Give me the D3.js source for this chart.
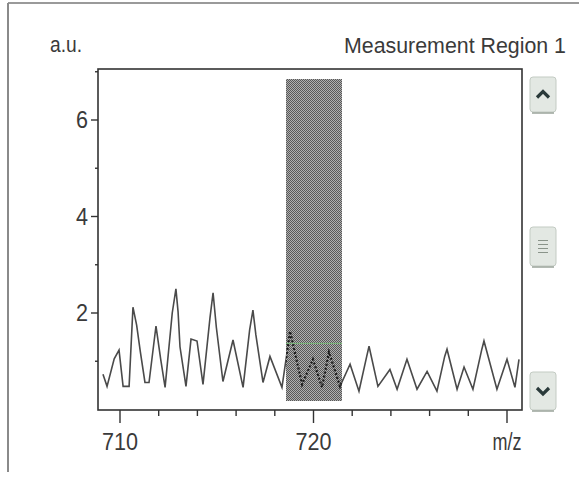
<!DOCTYPE html>
<html>
<head>
<meta charset="utf-8">
<script src="https://cdn.jsdelivr.net/npm/d3@7"></script>
<style>
  body { margin: 0; background: #fff; }
  text { font-family: "Liberation Sans", Arial, sans-serif; fill: #3a3a3a; }
</style>
</head>
<body>
<div class="chart-container"></div>
<script>
// --- Data ---

// m/z positions of the spectrum vertices
const mz = [
    709.12, 709.33, 709.70, 709.95, 710.16, 710.47, 710.67, 710.86, 711.05, 711.29,
    711.50, 711.86, 712.10, 712.33, 712.70, 712.89, 713.00, 713.10, 713.41, 713.67,
    713.98, 714.29, 714.65, 714.81, 714.98, 715.32, 715.84, 716.36, 716.70, 716.87,
    717.02, 717.39, 717.75, 718.37, 718.79, 719.41, 719.97, 720.44, 720.80, 721.37,
    721.89, 722.35, 722.75, 722.87, 723.33, 723.95, 724.32, 724.83, 725.35, 725.87,
    726.38, 726.78, 726.90, 727.42, 727.78, 728.24, 728.70, 728.81, 729.48, 730.00,
    730.41, 730.62
];
// intensity (a.u.) at each vertex
const intensity = [
    0.73, 0.48, 1.05, 1.23, 0.48, 0.48, 2.12, 1.75, 1.20, 0.56,
    0.56, 1.73, 1.05, 0.46, 2.00, 2.50, 2.03, 1.30, 0.48, 1.46,
    1.42, 0.52, 1.90, 2.42, 1.70, 0.58, 1.44, 0.46, 1.65, 2.06,
    1.55, 0.56, 1.10, 0.46, 1.62, 0.52, 1.04, 0.46, 1.19, 0.48,
    0.94, 0.38, 1.10, 1.31, 0.48, 0.83, 0.42, 1.04, 0.42, 0.79,
    0.38, 1.10, 1.25, 0.42, 0.88, 0.42, 1.25, 1.42, 0.42, 1.04,
    0.46, 1.04
];

// measurement region (m/z from, m/z to) and its height / threshold
const region = [718.58, 721.48];
const regionTop = 6.85;
const regionBottom = 0.17;
const threshold = 1.37;

// axis ticks
const xMajor = [710, 720, 730];
const xLabels = ["710", "720", "m/z"];
const xMinor = [712, 714, 716, 718, 722, 724, 726, 728];
const yMajor = [2, 4, 6];
const yMinor = [1, 3, 5, 7];

// --- Layout ---
const w = 579;
const h = 481;
const frame = { left: 98, right: 522, top: 69, bottom: 410 };

const xScale = d3.scaleLinear()
    .domain([710, 730])
    .range([120, 507]);

const yScale = d3.scaleLinear()
    .domain([2, 6])
    .range([313, 120]);

const svg = d3.select(".chart-container")
    .append("svg")
    .attr("width", w)
    .attr("height", h);

// window border (top and left edges)
svg.append("line")
    .attr("x1", 8).attr("x2", w).attr("y1", 3).attr("y2", 3)
    .attr("stroke", "#9a9a9a").attr("stroke-width", 2);
svg.append("line")
    .attr("x1", 8).attr("x2", 8).attr("y1", 3).attr("y2", 472)
    .attr("stroke", "#8a8a8a").attr("stroke-width", 2);

// titles (the original font is a tall, narrow one)
svg.append("text")
    .attr("x", 50).attr("y", 52)
    .attr("font-size", "22px")
    .attr("textLength", 32)
    .attr("lengthAdjust", "spacingAndGlyphs")
    .text("a.u.");
svg.append("text")
    .attr("x", 566).attr("y", 53)
    .attr("text-anchor", "end")
    .attr("font-size", "22px")
    .attr("textLength", 222)
    .attr("lengthAdjust", "spacingAndGlyphs")
    .text("Measurement Region 1");

// checkered fill for the measurement region
const defs = svg.append("defs");
const pat = defs.append("pattern")
    .attr("id", "checker")
    .attr("patternUnits", "userSpaceOnUse")
    .attr("width", 2).attr("height", 2);
pat.append("rect").attr("width", 2).attr("height", 2).attr("fill", "#b0b0b0");
pat.append("rect").attr("width", 1).attr("height", 1).attr("fill", "#585858");
pat.append("rect").attr("x", 1).attr("y", 1).attr("width", 1).attr("height", 1).attr("fill", "#585858");

defs.append("clipPath").attr("id", "plotClip")
    .append("rect")
    .attr("x", frame.left).attr("y", frame.top)
    .attr("width", frame.right - frame.left).attr("height", frame.bottom - frame.top);

defs.append("clipPath").attr("id", "regionClip")
    .append("rect")
    .attr("x", xScale(region[0])).attr("y", yScale(regionTop))
    .attr("width", xScale(region[1]) - xScale(region[0]))
    .attr("height", yScale(regionBottom) - yScale(regionTop));

// spectrum
const points = mz.map(function (d, i) { return [d, intensity[i]]; });
const line = d3.line()
    .x(function (d) { return xScale(d[0]); })
    .y(function (d) { return yScale(d[1]); });

svg.append("path")
    .datum(points)
    .attr("clip-path", "url(#plotClip)")
    .attr("d", line)
    .attr("fill", "none")
    .attr("stroke", "#4a4a4a")
    .attr("stroke-width", 1.6);

// region box
svg.append("rect")
    .attr("x", xScale(region[0]))
    .attr("y", yScale(regionTop))
    .attr("width", xScale(region[1]) - xScale(region[0]))
    .attr("height", yScale(regionBottom) - yScale(regionTop))
    .attr("fill", "url(#checker)")
    .attr("shape-rendering", "crispEdges");

// spectrum seen through the region, dotted
svg.append("path")
    .datum(points)
    .attr("clip-path", "url(#regionClip)")
    .attr("d", line)
    .attr("fill", "none")
    .attr("stroke", "#1e1e1e")
    .attr("stroke-width", 2.2)
    .attr("stroke-dasharray", "2,2");

// threshold line inside the region
svg.append("line")
    .attr("x1", xScale(region[0])).attr("x2", xScale(region[1]))
    .attr("y1", yScale(threshold)).attr("y2", yScale(threshold))
    .attr("stroke", "#78b878").attr("stroke-width", 1);

// frame
svg.append("rect")
    .attr("x", frame.left).attr("y", frame.top)
    .attr("width", frame.right - frame.left).attr("height", frame.bottom - frame.top)
    .attr("fill", "none")
    .attr("stroke", "#333")
    .attr("stroke-width", 1.6);

// x axis ticks and labels
svg.selectAll(".xmaj")
    .data(xMajor)
    .enter()
    .append("line")
    .attr("x1", function (d) { return xScale(d); })
    .attr("x2", function (d) { return xScale(d); })
    .attr("y1", frame.bottom).attr("y2", frame.bottom + 13)
    .attr("stroke", "#333").attr("stroke-width", 1.4);
svg.selectAll(".xmin")
    .data(xMinor)
    .enter()
    .append("line")
    .attr("x1", function (d) { return xScale(d); })
    .attr("x2", function (d) { return xScale(d); })
    .attr("y1", frame.bottom).attr("y2", frame.bottom + 6)
    .attr("stroke", "#333").attr("stroke-width", 1.4);
svg.selectAll(".xlab")
    .data(xMajor)
    .enter()
    .append("text")
    .attr("x", function (d) { return xScale(d); })
    .attr("y", 450)
    .attr("text-anchor", "middle")
    .attr("font-size", "23px")
    .attr("textLength", function (d, i) { return i === 2 ? 29 : 36; })
    .attr("lengthAdjust", "spacingAndGlyphs")
    .text(function (d, i) { return xLabels[i]; });

// y axis ticks and labels
svg.selectAll(".ymaj")
    .data(yMajor)
    .enter()
    .append("line")
    .attr("x1", frame.left - 7).attr("x2", frame.left)
    .attr("y1", function (d) { return yScale(d); })
    .attr("y2", function (d) { return yScale(d); })
    .attr("stroke", "#333").attr("stroke-width", 1.4);
svg.selectAll(".ymin")
    .data(yMinor)
    .enter()
    .append("line")
    .attr("x1", frame.left - 3).attr("x2", frame.left)
    .attr("y1", function (d) { return yScale(d); })
    .attr("y2", function (d) { return yScale(d); })
    .attr("stroke", "#333").attr("stroke-width", 1.4);
svg.selectAll(".ylab")
    .data(yMajor)
    .enter()
    .append("text")
    .attr("x", frame.left - 10)
    .attr("y", function (d) { return yScale(d) + 8; })
    .attr("text-anchor", "end")
    .attr("font-size", "23px")
    .attr("textLength", 12)
    .attr("lengthAdjust", "spacingAndGlyphs")
    .text(function (d) { return d; });

// scroll buttons on the right
const buttons = [
    { y: 77, hh: 35, kind: "up" },
    { y: 227, hh: 39, kind: "thumb" },
    { y: 372, hh: 38, kind: "down" }
];
const bx = 530, bw = 26;
buttons.forEach(function (b) {
    svg.append("rect")
        .attr("x", bx).attr("y", b.y)
        .attr("width", bw).attr("height", b.hh)
        .attr("rx", 3)
        .attr("fill", "#e3e8e3")
        .attr("stroke", "#c3cbc3");
    svg.append("line")
        .attr("x1", bx + 2).attr("x2", bx + bw - 2)
        .attr("y1", b.y + b.hh + 1).attr("y2", b.y + b.hh + 1)
        .attr("stroke", "#9aa39a").attr("stroke-width", 1.5);
    const cx = bx + bw / 2, cy = b.y + b.hh / 2;
    if (b.kind === "up") {
        svg.append("path")
            .attr("d", "M" + (cx - 6) + "," + (cy + 3) + "L" + cx + "," + (cy - 3) + "L" + (cx + 6) + "," + (cy + 3))
            .attr("fill", "none").attr("stroke", "#2a3a3a").attr("stroke-width", 3.2);
    } else if (b.kind === "down") {
        svg.append("path")
            .attr("d", "M" + (cx - 6) + "," + (cy - 3) + "L" + cx + "," + (cy + 3) + "L" + (cx + 6) + "," + (cy - 3))
            .attr("fill", "none").attr("stroke", "#2a3a3a").attr("stroke-width", 3.2);
    } else {
        [-6, -2, 2, 6].forEach(function (o) {
            svg.append("line")
                .attr("x1", cx - 5).attr("x2", cx + 5)
                .attr("y1", cy + o).attr("y2", cy + o)
                .attr("stroke", "#8a948a").attr("stroke-width", 1);
        });
    }
});
</script>
</body>
</html>
